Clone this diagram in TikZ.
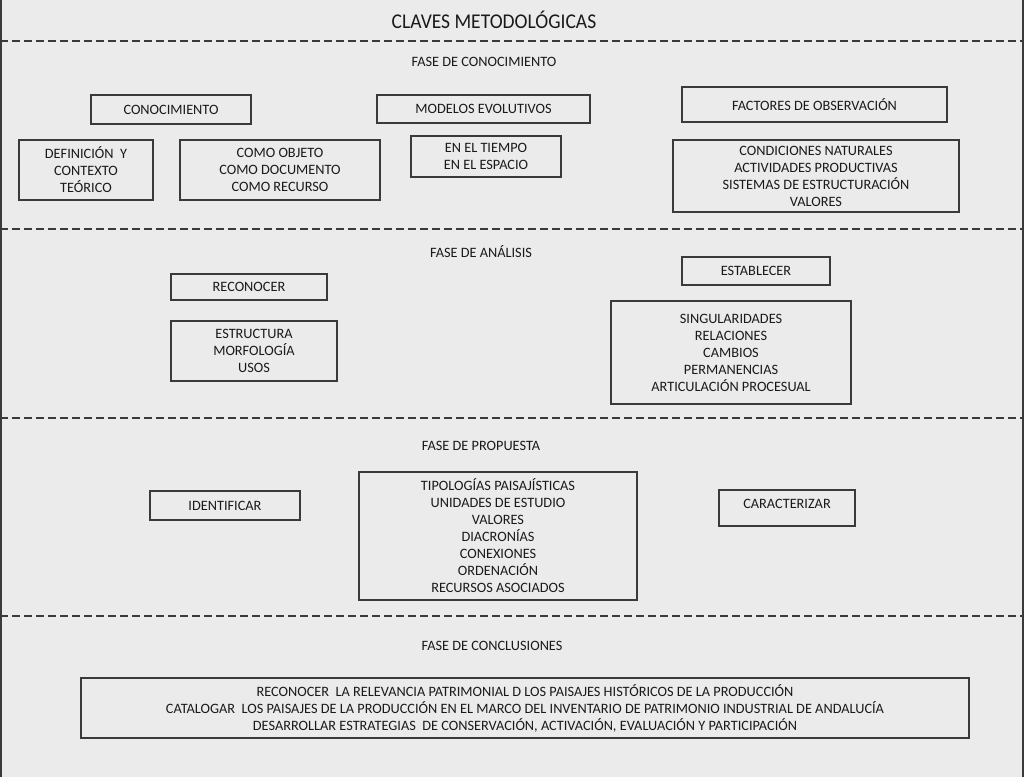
\documentclass[tikz,border=0pt]{standalone}
\usepackage{fontspec}
\setmainfont{Carlito}
\newfontfamily\bodyf[FakeStretch=1.0]{Carlito}
\newfontfamily\titlef[FakeStretch=0.93]{Carlito}
\usetikzlibrary{shadows}
\definecolor{bg}{HTML}{EBEBEB}
\definecolor{ln}{HTML}{3A3A3A}
\definecolor{tx}{HTML}{1A1A1A}
\begin{document}
\begin{tikzpicture}[x=1pt,y=-1pt,
  bx/.style={draw=ln, line width=1.2pt, fill=bg, align=center, inner sep=0pt, text=tx,
    font=\bodyf\fontsize{14.3}{17}\selectfont,
    drop shadow={shadow xshift=1pt, shadow yshift=-1pt, fill=black!45, opacity=0.6}},
  phase/.style={font=\bodyf\fontsize{14.3}{17}\selectfont, inner sep=0pt, text=tx},
  sep/.style={draw=ln, line width=1.3pt, dash pattern=on 8pt off 4pt}]
\useasboundingbox (0,0) rectangle (1024,777);
\fill[bg] (0,0) rectangle (1024,777);
\draw[ln, line width=1.3pt] (1,0) -- (1,777);
\draw[ln, line width=1.3pt] (1023,0) -- (1023,777);
\coordinate (s1a) at (0,41); \coordinate (s1b) at (1024,41);
\coordinate (s2a) at (0,229); \coordinate (s2b) at (1024,229);
\coordinate (s3a) at (0,418); \coordinate (s3b) at (1024,418);
\coordinate (s4a) at (0,616); \coordinate (s4b) at (1024,616);
\draw[sep] (s1a) -- (s1b);
\draw[sep] (s2a) -- (s2b);
\draw[sep] (s3a) -- (s3b);
\draw[sep] (s4a) -- (s4b);

\node[font=\titlef\fontsize{21}{24}\selectfont, inner sep=0pt, text=tx] (title) at (494,20) {CLAVES METODOLÓGICAS};

% Fase de conocimiento
\node[phase] (f1) at (484,62) {FASE DE CONOCIMIENTO};
\node[bx, minimum width=160pt, minimum height=29pt] (con) at (171,109.5) {CONOCIMIENTO};
\node[bx, minimum width=213pt, minimum height=28pt] (mod) at (483.5,109) {MODELOS EVOLUTIVOS};
\node[bx, minimum width=265pt, minimum height=35pt] (fac) at (814.5,104.5) {FACTORES DE OBSERVACIÓN};
\node[bx, minimum width=134pt, minimum height=60pt] (def) at (86,170) {DEFINICIÓN\ \ Y\\CONTEXTO\\TEÓRICO};
\node[bx, minimum width=200pt, minimum height=60pt] (como) at (280,170) {COMO OBJETO\\COMO DOCUMENTO\\COMO RECURSO};
\node[bx, minimum width=150pt, minimum height=41pt] (tie) at (486,156.5) {EN EL TIEMPO\\EN EL ESPACIO};
\node[bx, minimum width=286pt, minimum height=72pt] (cond) at (816,176) {CONDICIONES NATURALES\\ACTIVIDADES PRODUCTIVAS\\SISTEMAS DE ESTRUCTURACIÓN\\VALORES};

% Fase de análisis
\node[phase] (f2) at (481,252) {FASE DE ANÁLISIS};
\node[bx, minimum width=156pt, minimum height=26pt] (rec) at (249,287) {RECONOCER};
\node[bx, minimum width=148pt, minimum height=28pt] (est) at (756,271) {ESTABLECER};
\node[bx, minimum width=166pt, minimum height=60pt] (estr) at (254,351) {ESTRUCTURA\\MORFOLOGÍA\\USOS};
\node[bx, minimum width=240pt, minimum height=103pt] (sing) at (731,352.5) {SINGULARIDADES\\RELACIONES\\CAMBIOS\\PERMANENCIAS\\ARTICULACIÓN PROCESUAL};

% Fase de propuesta
\node[phase] (f3) at (481,446) {FASE DE PROPUESTA};
\node[bx, minimum width=150pt, minimum height=29pt] (ide) at (225,505.5) {IDENTIFICAR};
\node[bx, minimum width=278pt, minimum height=128pt] (tip) at (498,536) {TIPOLOGÍAS PAISAJÍSTICAS\\UNIDADES DE ESTUDIO\\VALORES\\DIACRONÍAS\\CONEXIONES\\ORDENACIÓN\\RECURSOS ASOCIADOS};
\node[bx, minimum width=136pt, minimum height=36pt, text depth=8pt] (car) at (787,508) {CARACTERIZAR};

% Fase de conclusiones
\node[phase] (f4) at (492,646) {FASE DE CONCLUSIONES};
\node[bx, minimum width=888pt, minimum height=60pt] (concl) at (525,708) {RECONOCER\ \ LA RELEVANCIA PATRIMONIAL D LOS PAISAJES HISTÓRICOS DE LA PRODUCCIÓN\\CATALOGAR\ \ LOS PAISAJES DE LA PRODUCCIÓN EN EL MARCO DEL INVENTARIO DE PATRIMONIO INDUSTRIAL DE ANDALUCÍA\\DESARROLLAR ESTRATEGIAS\ \ DE CONSERVACIÓN, ACTIVACIÓN, EVALUACIÓN Y PARTICIPACIÓN};
\end{tikzpicture}
\end{document}
